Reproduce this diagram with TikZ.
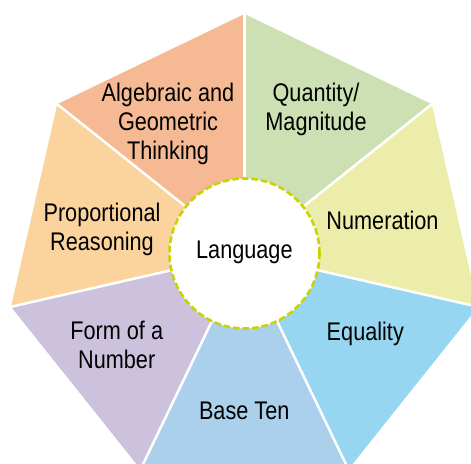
\documentclass[tikz,border=0pt]{standalone}
\usepackage{fontspec}
\setmainfont[FakeStretch=0.85]{Liberation Sans}
\definecolor{cAlg}{HTML}{F5B994}
\definecolor{cQua}{HTML}{CCE0B3}
\definecolor{cNum}{HTML}{EDEDAB}
\definecolor{cEqu}{HTML}{97D6F1}
\definecolor{cBas}{HTML}{ABD0EB}
\definecolor{cFor}{HTML}{CDC2DE}
\definecolor{cPro}{HTML}{FAD39D}
\definecolor{cDash}{HTML}{C8D300}
\begin{document}
\begin{tikzpicture}[x=1pt,y=-1pt,
  lbl/.style={font=\fontsize{25.5}{28.8}\selectfont, align=center, inner sep=0pt, text=black},
  sep/.style={draw=white, line width=2.5pt},
  hubline/.style={draw=cDash, line width=2.6pt, dash pattern=on 6.5pt off 3pt, fill=white}]
\useasboundingbox (0,0) rectangle (471,463);
\clip (0,0) rectangle (471,463);
\coordinate (C) at (244.5,253.5);
\foreach \i in {0,...,6}{
  \pgfmathsetmacro\a{90-\i*360/7}
  \coordinate (v\i) at ({244.5+239.5*cos(\a)},{253.5-239.5*sin(\a)});
}
% wedges
\fill[cQua] (C) -- (v0) -- (v1) -- cycle;
\fill[cNum] (C) -- (v1) -- (v2) -- cycle;
\fill[cEqu] (C) -- (v2) -- (v3) -- cycle;
\fill[cBas] (C) -- (v3) -- (v4) -- cycle;
\fill[cFor] (C) -- (v4) -- (v5) -- cycle;
\fill[cPro] (C) -- (v5) -- (v6) -- cycle;
\fill[cAlg] (C) -- (v6) -- (v0) -- cycle;
% white separators
\foreach \i in {0,...,6}{ \draw[sep] (C) -- (v\i); }
% central circle
\path[hubline] (C) circle[radius=75pt];
% labels
\node[lbl] (alg) at (168,124) {Algebraic and\\Geometric\\Thinking};
\node[lbl] (qua) at (316,109.8) {Quantity/\\Magnitude};
\node[lbl, anchor=base] (num) at (382.5,229.3) {Numeration};
\node[lbl, anchor=base] (equ) at (365.3,340) {Equality};
\node[lbl, anchor=base] (bas) at (244.2,419.3) {Base Ten};
\node[lbl] (for) at (116.7,344.7) {Form of a\\Number};
\node[lbl] (pro) at (102,229.4) {Proportional\\Reasoning};
\node[lbl, anchor=base] (lang) at (244.4,258.3) {Language};
\end{tikzpicture}
\end{document}
